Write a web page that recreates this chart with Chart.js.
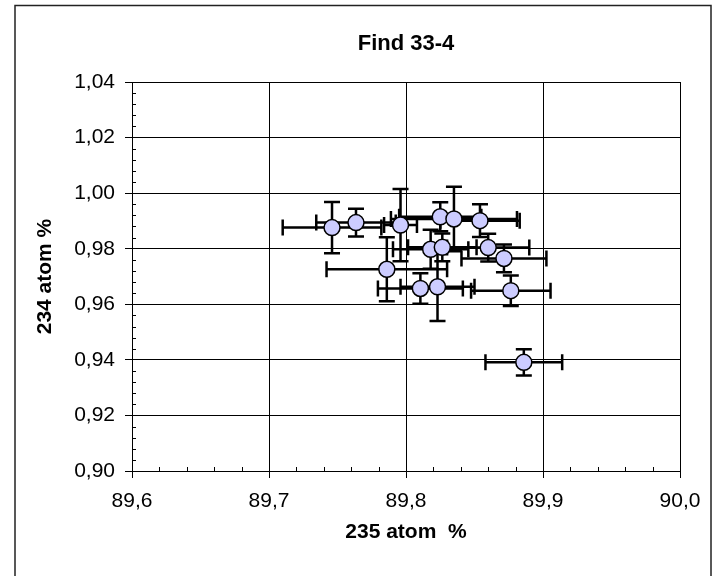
<!DOCTYPE html>
<html><head><meta charset="utf-8">
<script src="https://cdn.jsdelivr.net/npm/chart.js@4/dist/chart.umd.min.js"></script>
<style>html,body{margin:0;padding:0;background:#fff}#wrap{width:718px;height:576px;position:relative}</style>
</head><body><div id="wrap"><canvas id="c" width="718" height="576"></canvas></div>
<script>
const chartTitle = 'Find 33-4';
const xAxisTitle = '235 atom  %';
const yAxisTitle = '234 atom %';
const x235 = [89.746, 89.7635, 89.796, 89.825, 89.835, 89.854, 89.818, 89.8265, 89.860, 89.8715, 89.786, 89.8105, 89.823, 89.8765, 89.886];
const y234 = [0.9876, 0.9894, 0.9885, 0.9915, 0.9907, 0.9901, 0.9798, 0.9805, 0.9804, 0.9765, 0.9726, 0.9657, 0.9663, 0.9649, 0.9391];
const xErr = [0.036, 0.029, 0.012, 0.030, 0.046, 0.029, 0.0275, 0.025, 0.030, 0.031, 0.044, 0.031, 0.027, 0.029, 0.028];
const yErr = [0.0092, 0.005, 0.013, 0.0052, 0.0116, 0.0059, 0.007, 0.005, 0.005, 0.005, 0.0115, 0.0055, 0.0123, 0.0055, 0.0047];
const xTickValues = [89.6, 89.7, 89.8, 89.9, 90.0];
const xTickLabels = ['89,6', '89,7', '89,8', '89,9', '90,0'];
const yTickValues = [0.90, 0.92, 0.94, 0.96, 0.98, 1.00, 1.02, 1.04];
const yTickLabels = ['0,90', '0,92', '0,94', '0,96', '0,98', '1,00', '1,02', '1,04'];
const xMinorStep = 0.02;
const yMinorStep = 0.004;

const points = x235.map((x, i) => ({x: x, y: y234[i]}));
const FONT = '"Liberation Sans", Arial, sans-serif';

function nearestLabel(v, vals, labels) {
  let best = 0, bd = Infinity;
  vals.forEach((t, i) => { const d = Math.abs(t - v); if (d < bd) { bd = d; best = i; } });
  return bd < 1e-6 ? labels[best] : '';
}

const framePlugin = {
  id: 'frame',
  beforeDraw(chart) {
    const ctx = chart.ctx;
    ctx.save();
    ctx.fillStyle = '#ffffff';
    ctx.fillRect(0, 0, chart.width, chart.height);
    ctx.strokeStyle = '#222';
    ctx.lineWidth = 1.5;
    ctx.strokeRect(15, 5.5, 696, 600);
    ctx.restore();
  },
  afterDraw(chart) {
    const ctx = chart.ctx, a = chart.chartArea;
    const xs = chart.scales.x, ys = chart.scales.y;
    ctx.save();
    ctx.strokeStyle = '#000';
    ctx.lineWidth = 1;
    ctx.beginPath();
    for (let k = 1; k < 20; k++) {
      if (k % 5 === 0) continue;
      const px = Math.round(xs.getPixelForValue(xTickValues[0] + k * xMinorStep)) + 0.5;
      ctx.moveTo(px, a.bottom); ctx.lineTo(px, a.bottom - 4);
    }
    for (let k = 1; k < 35; k++) {
      if (k % 5 === 0) continue;
      const py = Math.round(ys.getPixelForValue(yTickValues[0] + k * yMinorStep)) + 0.5;
      ctx.moveTo(a.left, py); ctx.lineTo(a.left + 4, py);
    }
    ctx.stroke();
    ctx.fillStyle = '#000';
    ctx.font = 'bold 22px ' + FONT;
    ctx.textAlign = 'center';
    ctx.textBaseline = 'middle';
    ctx.fillText(chartTitle, (a.left + a.right) / 2, 44);
    ctx.restore();
  }
};

const errorBarPlugin = {
  id: 'errbars',
  beforeDatasetsDraw(chart) {
    const ctx = chart.ctx;
    const xs = chart.scales.x, ys = chart.scales.y;
    const cap = 8;
    ctx.save();
    ctx.strokeStyle = '#000';
    ctx.lineWidth = 2.5;
    ctx.lineCap = 'butt';
    points.forEach((p, i) => {
      const cx = xs.getPixelForValue(p.x), cy = ys.getPixelForValue(p.y);
      const xl = xs.getPixelForValue(p.x - xErr[i]), xr = xs.getPixelForValue(p.x + xErr[i]);
      const yt = ys.getPixelForValue(p.y + yErr[i]), yb = ys.getPixelForValue(p.y - yErr[i]);
      ctx.beginPath();
      ctx.moveTo(xl, cy); ctx.lineTo(xr, cy);
      ctx.moveTo(xl, cy - cap); ctx.lineTo(xl, cy + cap);
      ctx.moveTo(xr, cy - cap); ctx.lineTo(xr, cy + cap);
      ctx.moveTo(cx, yt); ctx.lineTo(cx, yb);
      ctx.moveTo(cx - cap, yt); ctx.lineTo(cx + cap, yt);
      ctx.moveTo(cx - cap, yb); ctx.lineTo(cx + cap, yb);
      ctx.stroke();
    });
    ctx.restore();
  }
};

new Chart(document.getElementById('c'), {
  type: 'scatter',
  data: {
    datasets: [{
      label: chartTitle,
      data: points,
      pointRadius: 8,
      pointHoverRadius: 8,
      pointBackgroundColor: '#ccccff',
      pointBorderColor: '#000',
      pointBorderWidth: 1.5,
      showLine: false
    }]
  },
  plugins: [framePlugin, errorBarPlugin],
  options: {
    responsive: false,
    animation: false,
    events: [],
    layout: { padding: { top: 82, right: 38, bottom: 0, left: 0 } },
    plugins: { legend: { display: false }, title: { display: false }, tooltip: { enabled: false } },
    scales: {
      x: {
        type: 'linear',
        min: xTickValues[0], max: xTickValues[xTickValues.length - 1],
        afterBuildTicks(scale) { scale.ticks = xTickValues.map(v => ({value: v})); },
        afterFit(scale) { scale.height = 105; },
        grid: { color: '#000', lineWidth: 1, drawTicks: true, tickLength: 7, tickColor: '#000' },
        border: { display: true, color: '#000', width: 1 },
        ticks: {
          padding: 11, color: '#000', maxRotation: 0, autoSkip: false,
          font: { family: FONT, size: 21 },
          callback: (v) => nearestLabel(v, xTickValues, xTickLabels)
        },
        title: { display: true, text: xAxisTitle, color: '#000',
          font: { family: FONT, size: 21, weight: 'bold' },
          padding: { top: 0, bottom: 31 } }
      },
      y: {
        type: 'linear',
        min: yTickValues[0], max: yTickValues[yTickValues.length - 1],
        afterBuildTicks(scale) { scale.ticks = yTickValues.map(v => ({value: v})); },
        afterFit(scale) { scale.width = 132; },
        grid: { color: '#000', lineWidth: 1, drawTicks: true, tickLength: 7, tickColor: '#000' },
        border: { display: true, color: '#000', width: 1 },
        ticks: {
          padding: 10, color: '#000', autoSkip: false,
          font: { family: FONT, size: 21 },
          callback: (v) => nearestLabel(v, yTickValues, yTickLabels)
        },
        title: { display: true, text: yAxisTitle, color: '#000',
          font: { family: FONT, size: 21, weight: 'bold' },
          padding: { top: 33, bottom: 0 } }
      }
    }
  }
});
</script>
</body></html>
